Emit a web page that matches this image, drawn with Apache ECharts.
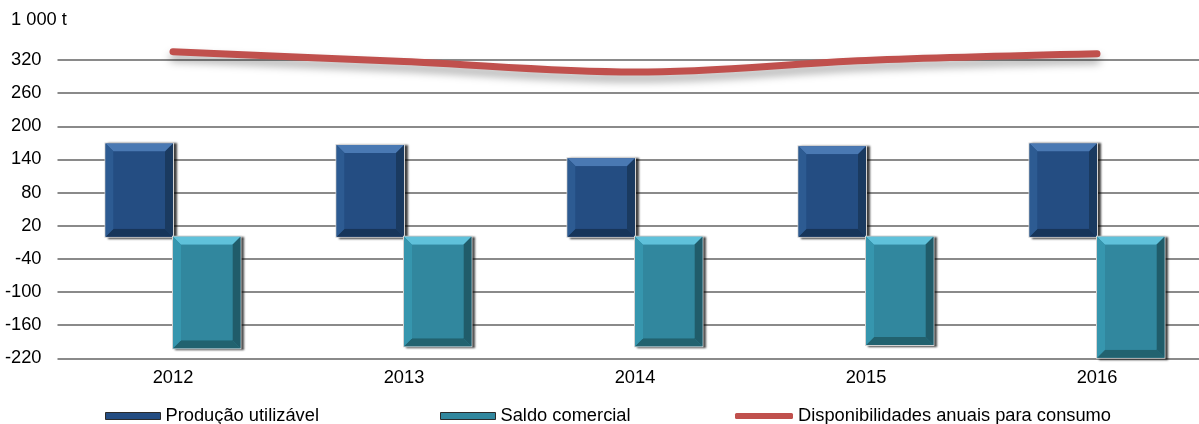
<!DOCTYPE html>
<html>
<head>
<meta charset="utf-8">
<script src="https://cdn.jsdelivr.net/npm/echarts@6/dist/echarts.min.js"></script>
<style>
  html, body { margin: 0; padding: 0; background: #fff; }
  #chart { width: 1199px; height: 424px; }
</style>
</head>
<body>
<div id="chart"></div>
<script>
// Balanço anual (1 000 t)
const years = ['2012', '2013', '2014', '2015', '2016'];
const producao = [169, 166, 142, 164, 169];
const saldo = [-202, -198, -198, -196, -219];
const disponibilidades = [335, 317, 298, 319, 331];

const FONT = "'Liberation Sans', Arial, sans-serif";
const FS = 18.3;

// Bevelled bar drawn on the category/value scales of the grid.
// side = -1 puts the bar left of the category centre, +1 to the right.
function bevelBar(side, pal) {
  return function (params, api) {
    const cat = api.value(0);
    const val = api.value(1);
    const base = api.coord([cat, 0]);
    const tip = api.coord([cat, val]);
    const band = api.size([1, 0])[0];
    const bw = band * 0.292;
    const x0 = side < 0 ? base[0] - bw : base[0];
    const y0 = Math.min(base[1], tip[1]);
    const h = Math.abs(tip[1] - base[1]);
    const b = Math.min(8, h / 2);
    const x1 = x0 + bw, y1 = y0 + h;
    const poly = (pts, fill) => ({ type: 'polygon', shape: { points: pts }, style: { fill: fill } });
    return {
      type: 'group',
      children: [
        { type: 'rect', shape: { x: x0 - 1, y: y0 - 1, width: bw + 2, height: h + 2 },
          style: { fill: '#d4d4d4', shadowColor: 'rgba(0,0,0,0.75)', shadowOffsetX: 3, shadowOffsetY: 1, shadowBlur: 2 } },
        { type: 'rect', shape: { x: x0, y: y0, width: bw, height: h }, style: { fill: pal.face } },
        poly([[x0, y0], [x1, y0], [x1 - b, y0 + b], [x0 + b, y0 + b]], pal.top),
        poly([[x0, y1], [x1, y1], [x1 - b, y1 - b], [x0 + b, y1 - b]], pal.bottom),
        poly([[x0, y0], [x0 + b, y0 + b], [x0 + b, y1 - b], [x0, y1]], pal.left),
        poly([[x1, y0], [x1 - b, y0 + b], [x1 - b, y1 - b], [x1, y1]], pal.right),
        { type: 'rect', shape: { x: x0 + b, y: y0 + b, width: bw - 2 * b, height: h - 2 * b }, style: { fill: pal.face } }
      ]
    };
  };
}

const blue = { face: '#244d82', top: '#4a79b3', bottom: '#17355a', left: '#2d5b92', right: '#1a3a60' };
const teal = { face: '#31879e', top: '#5fc1da', bottom: '#22626f', left: '#3696ae', right: '#205c6a' };

const chart = echarts.init(document.getElementById('chart'), null, { renderer: 'canvas' });

const legendBase = {
  top: 407, padding: 0, itemGap: 0,
  itemWidth: 55, itemHeight: 7,
  textStyle: { fontFamily: FONT, fontSize: FS, color: '#000' },
  selectedMode: false
};

chart.setOption({
  animation: false,
  backgroundColor: '#ffffff',
  textStyle: { fontFamily: FONT },
  title: {
    text: '1 000 t', left: 11, top: 11, padding: 0,
    textStyle: { fontFamily: FONT, fontSize: FS, fontWeight: 'normal', color: '#000' }
  },
  legend: [
    Object.assign({}, legendBase, { left: 105, data: [{ name: 'Produção utilizável', icon: 'rect',
      itemStyle: { color: blue.face, borderColor: '#2b2b2b', borderWidth: 1 } }] }),
    Object.assign({}, legendBase, { left: 440, data: [{ name: 'Saldo comercial', icon: 'rect',
      itemStyle: { color: teal.face, borderColor: '#2b2b2b', borderWidth: 1 } }] }),
    Object.assign({}, legendBase, { left: 735, itemWidth: 58, itemHeight: 6, data: [{ name: 'Disponibilidades anuais para consumo', icon: 'roundRect',
      itemStyle: { color: '#c0504d' } }] })
  ],
  // plot area runs past the right edge of the canvas
  grid: { left: 57.5, width: 1155, top: 26.8, bottom: 65.7, containLabel: false, outerBoundsMode: 'none' },
  xAxis: {
    type: 'category',
    data: years,
    axisLine: { show: false },
    axisTick: { show: false },
    axisLabel: { fontFamily: FONT, fontSize: FS, color: '#000', margin: 11 },
    splitLine: { show: false }
  },
  yAxis: {
    type: 'value',
    min: -220, max: 380, interval: 60,
    axisLine: { show: false },
    axisTick: { show: false },
    axisLabel: {
      fontFamily: FONT, fontSize: FS, color: '#000', margin: 16,
      showMaxLabel: false,
      formatter: v => (v > 320 ? '' : String(v))
    },
    splitLine: { show: true, showMaxLine: false, lineStyle: { color: '#8a8a8a', width: 2 } }
  },
  series: [
    {
      name: 'Produção utilizável', type: 'custom',
      renderItem: bevelBar(-1, blue),
      encode: { x: 0, y: 1 },
      itemStyle: { color: blue.face },
      data: producao.map((v, i) => [i, v]),
      z: 3
    },
    {
      name: 'Saldo comercial', type: 'custom',
      renderItem: bevelBar(1, teal),
      encode: { x: 0, y: 1 },
      itemStyle: { color: teal.face },
      data: saldo.map((v, i) => [i, v]),
      z: 3
    },
    {
      name: 'Disponibilidades anuais para consumo', type: 'line',
      data: disponibilidades,
      smooth: 0.35,
      symbol: 'none',
      lineStyle: { color: '#c0504d', width: 7, cap: 'round',
        shadowColor: 'rgba(0,0,0,0.35)', shadowBlur: 8, shadowOffsetY: 6 },
      itemStyle: { color: '#c0504d' },
      z: 5
    }
  ]
});
</script>
</body>
</html>
